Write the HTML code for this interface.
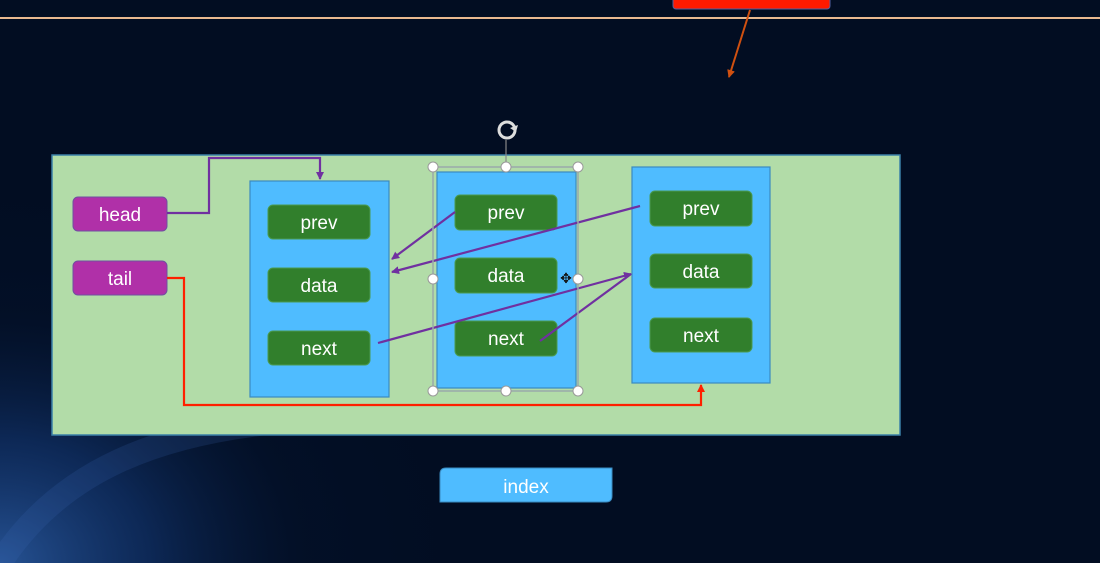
<!DOCTYPE html>
<html><head><meta charset="utf-8"><style>
html,body{margin:0;padding:0;width:1100px;height:563px;overflow:hidden;background:#020d22;}
svg text{font-family:"Liberation Sans","DejaVu Sans",sans-serif;}
</style></head><body>
<svg width="1100" height="563" viewBox="0 0 1100 563" xmlns="http://www.w3.org/2000/svg">
<defs>
<radialGradient id="sw" cx="0" cy="1" r="1">
<stop offset="0" stop-color="#2a5aa0" stop-opacity="0.9"/>
<stop offset="0.3" stop-color="#143a78" stop-opacity="0.6"/>
<stop offset="0.6" stop-color="#061a3a" stop-opacity="0.2"/>
<stop offset="1" stop-color="#020d22" stop-opacity="0"/>
</radialGradient>
<marker id="ap" markerWidth="8" markerHeight="8" refX="7" refY="4" orient="auto" markerUnits="userSpaceOnUse"><path d="M0,0 L8,4 L0,8 z" fill="#7030a0"/></marker>
<marker id="ar" markerWidth="8" markerHeight="8" refX="7" refY="4" orient="auto" markerUnits="userSpaceOnUse"><path d="M0,0 L8,4 L0,8 z" fill="#ff2000"/></marker>
<marker id="ao" markerWidth="8" markerHeight="8" refX="7" refY="4" orient="auto" markerUnits="userSpaceOnUse"><path d="M0,0 L8,4 L0,8 z" fill="#d05010"/></marker>
</defs>
<rect width="1100" height="563" fill="#020d22"/>
<rect x="0" y="150" width="500" height="413" fill="url(#sw)"/>
<path d="M0,563 C60,470 160,430 300,420" stroke="#3b6cb8" stroke-width="24" fill="none" opacity="0.18"/>
<line x1="0" y1="18" x2="1100" y2="18" stroke="#e8b890" stroke-width="2"/>
<rect x="673" y="-6" width="157" height="15" rx="3" fill="#ff1a00" stroke="#5060a0"/>
<line x1="750" y1="10" x2="729" y2="77" stroke="#d05010" stroke-width="2" marker-end="url(#ao)"/>

<rect x="52" y="155" width="848" height="280" fill="#b2dca8" stroke="#3a80a8" stroke-width="1.5"/>

<rect x="73" y="197" width="94" height="34" rx="5" fill="#b030a8" stroke="#7050a0"/>
<text x="120" y="221" fill="#fff" font-size="19" text-anchor="middle">head</text>
<rect x="73" y="261" width="94" height="34" rx="5" fill="#b030a8" stroke="#7050a0"/>
<text x="120" y="285" fill="#fff" font-size="19" text-anchor="middle">tail</text>

<g fill="#4fbcff" stroke="#3a8ac0" stroke-width="1.2">
<rect x="250" y="181" width="139" height="216"/>
<rect x="437" y="172" width="139" height="216"/>
<rect x="632" y="167" width="138" height="216"/>
</g>
<g fill="#317f2c" stroke="#4a9a50">
<rect x="268" y="205" width="102" height="34" rx="5"/>
<rect x="268" y="268" width="102" height="34" rx="5"/>
<rect x="268" y="331" width="102" height="34" rx="5"/>
<rect x="455" y="195" width="102" height="35" rx="5"/>
<rect x="455" y="258" width="102" height="35" rx="5"/>
<rect x="455" y="321" width="102" height="35" rx="5"/>
<rect x="650" y="191" width="102" height="35" rx="5"/>
<rect x="650" y="254" width="102" height="34" rx="5"/>
<rect x="650" y="318" width="102" height="34" rx="5"/>
</g>
<g fill="#fff" font-size="19" text-anchor="middle">
<text x="319" y="229">prev</text><text x="319" y="292">data</text><text x="319" y="355">next</text>
<text x="506" y="219">prev</text><text x="506" y="282">data</text><text x="506" y="345">next</text>
<text x="701" y="215">prev</text><text x="701" y="278">data</text><text x="701" y="342">next</text>
</g>

<g stroke="#7030a0" stroke-width="2.2" fill="none">
<polyline points="167,213 209,213 209,158 320,158 320,179" marker-end="url(#ap)"/>
<line x1="455" y1="212" x2="392" y2="259" marker-end="url(#ap)"/>
<line x1="640" y1="206" x2="392" y2="272" marker-end="url(#ap)"/>
<line x1="378" y1="343" x2="631" y2="274" marker-end="url(#ap)"/>
<line x1="540" y1="341" x2="631" y2="274"/>
</g>
<polyline points="167,278 184,278 184,405 701,405 701,385" stroke="#ff2000" stroke-width="2.2" fill="none" marker-end="url(#ar)"/>

<rect x="433" y="167" width="145" height="224" fill="none" stroke="#9aa" stroke-width="1.5"/>
<line x1="506" y1="140" x2="506" y2="167" stroke="#888" stroke-width="1.2"/>
<g fill="#fff" stroke="#999" stroke-width="1">
<circle cx="433" cy="167" r="5"/><circle cx="506" cy="167" r="5"/><circle cx="578" cy="167" r="5"/>
<circle cx="433" cy="279" r="5"/><circle cx="578" cy="279" r="5"/>
<circle cx="433" cy="391" r="5"/><circle cx="506" cy="391" r="5"/><circle cx="578" cy="391" r="5"/>
</g>
<circle cx="507" cy="130" r="8" fill="none" stroke="#ddd" stroke-width="3"/>
<path d="M510,128 l6,4 l2,-7 z" fill="#ddd"/>
<text x="566" y="283" font-size="14" text-anchor="middle" fill="#111">✥</text>

<path d="M446,468 L612,468 L612,496 Q612,502 606,502 L440,502 L440,474 Q440,468 446,468 z" fill="#4fbcff" stroke="#3a8ac0"/>
<text x="526" y="493" fill="#fff" font-size="19" text-anchor="middle">index</text>
</svg>
</body></html>
